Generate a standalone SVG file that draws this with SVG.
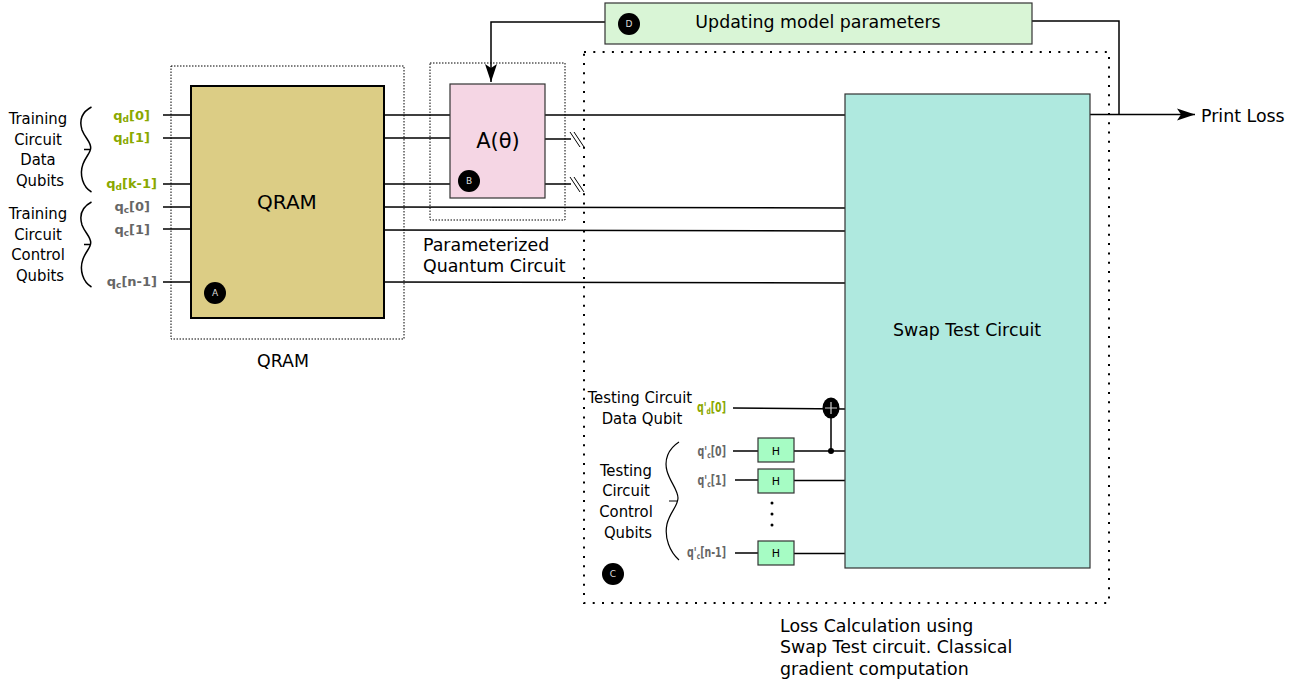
<svg xmlns="http://www.w3.org/2000/svg" width="1311" height="684" viewBox="0 0 1311 684">
<defs>
<marker id="arr" markerUnits="userSpaceOnUse" markerWidth="20" markerHeight="14" refX="18" refY="7" orient="auto"><path d="M0 1L18 7L0 13L4 7Z" fill="#000"/></marker>
</defs>
<style>
text{font-family:"DejaVu Sans",sans-serif;fill:#000}
.t{font-size:16.5px;text-anchor:middle;font-stretch:condensed}
.l{font-size:17.4px}
.gb{font-weight:bold;font-size:13px;fill:#8aa800;text-anchor:end}
.kb{font-weight:bold;font-size:13px;fill:#666;text-anchor:end}
.gn{font-weight:bold;font-size:13.5px;fill:#8aa800;text-anchor:end}
.kn{font-weight:bold;font-size:13.5px;fill:#666;text-anchor:end}
.s{font-size:9px;fill:#ddd;text-anchor:middle}
.w{fill:none;stroke:#000;stroke-width:1.5}
.br{fill:none;stroke:#000;stroke-width:1.5}
.box{fill:none;stroke:#000;stroke-width:1;stroke-dasharray:1.5 1.5}
.h{fill:#a6fcc4;stroke:#333;stroke-width:1.2}
</style>
<g id="connectors">
<path class="w" d="M163 115H191M163 138H191M163 184H191M163 207H191M163 229H191M163 282H191"/>
<path class="w" d="M384 115H450M384 138H450M384 184H450M384 207L845 208M384 230L845 231M384 282L845 283"/>
<path class="w" d="M545 115H845M545 139H571M545 184H571"/>
<path class="w" d="M570 132L580 147M574 132L584 147M570 177L580 192M574 177L584 192" style="stroke-width:1"/>
<path class="w" d="M605 22H491V82" marker-end="url(#arr)"/>
<path class="w" d="M1032 21H1119V115"/>
<path class="w" d="M1090 114.500H1195" marker-end="url(#arr)"/>
<path class="w" d="M733 408L845 409M733 451H758M794 451H845M735 480H758M794 480.500H845M735 553H758M794 553.500H845M831 408V451"/>
<path class="br" d="M91.500 107C82 112 79 120 82 130C85 138 91 142 90.700 148C90.500 153 86 156 83 164C79 175 83 187 91.500 192M84 149.500H91"/>
<path class="br" d="M91.500 202C82 207 79 215 82 225C85 233 91 237 90.700 243C90.500 248 86 251 83 259C79 270 83 282 91.500 287M84 244.500H91"/>
<path class="br" style="stroke-width:1.200" d="M679 442C668 449 664 460 667 471C670 482 678 490 678 498C678 506 670 512 667 524C664 538 670 552 679 560M669 501H678"/>
</g>
<g id="qram-frame"><rect class="box" x="171" y="66" width="233" height="273"/><text class="l" x="283" y="367" text-anchor="middle">QRAM</text></g>
<g id="pqc-frame"><rect class="box" x="430" y="63" width="135" height="157"/><text class="l" x="423" y="251">Parameterized</text><text class="l" x="423" y="272">Quantum Circuit</text></g>
<g id="loss-frame"><rect x="584" y="52" width="525" height="551" fill="none" stroke="#000" stroke-width="2" stroke-dasharray="2 7.300"/><text class="l" x="780" y="632">Loss Calculation using</text><text class="l" x="780" y="653">Swap Test circuit. Classical</text><text class="l" x="780" y="675">gradient computation</text></g>
<g id="qram"><rect x="191" y="86" width="193" height="232" fill="#dccd85" stroke="#000" stroke-width="2"/><text x="287" y="209" font-size="20" text-anchor="middle">QRAM</text><circle cx="215" cy="293" r="11" fill="#000"/><text class="s" x="215" y="296">A</text></g>
<g id="pqc"><rect x="450" y="84" width="95" height="114" fill="#f5d6e4" stroke="#333" stroke-width="1.2"/><text x="498" y="148" font-size="21" text-anchor="middle">A(θ)</text><circle cx="469" cy="181" r="11" fill="#000"/><text class="s" x="469" y="184">B</text></g>
<g id="swap"><rect x="845" y="94" width="245" height="474" fill="#afe9df" stroke="#333" stroke-width="1.2"/><text class="l" x="967" y="336" text-anchor="middle">Swap Test Circuit</text></g>
<g id="update"><rect x="605" y="3" width="427" height="41" fill="#d9f5d6" stroke="#333" stroke-width="1.2"/><circle cx="629" cy="24" r="11" fill="#000"/><text class="s" x="629" y="27">D</text><text class="l" x="818" y="28" text-anchor="middle">Updating model parameters</text></g>
<g id="train-labels">
<text class="t" x="38" y="124">Training</text><text class="t" x="38" y="145">Circuit</text><text class="t" x="38" y="165">Data</text><text class="t" x="40" y="186">Qubits</text>
<text class="t" x="38" y="219">Training</text><text class="t" x="38" y="240">Circuit</text><text class="t" x="38" y="260">Control</text><text class="t" x="40" y="281">Qubits</text>
</g>
<g id="train-qubits">
<text class="gb" x="150" y="120">q<tspan font-size="9" dy="2">d</tspan><tspan dy="-2">[0]</tspan></text>
<text class="gb" x="150" y="142">q<tspan font-size="9" dy="2">d</tspan><tspan dy="-2">[1]</tspan></text>
<text class="gb" x="157" y="188">q<tspan font-size="9" dy="2">d</tspan><tspan dy="-2">[k-1]</tspan></text>
<text class="kb" x="150" y="211">q<tspan font-size="9" dy="2">c</tspan><tspan dy="-2">[0]</tspan></text>
<text class="kb" x="150" y="234">q<tspan font-size="9" dy="2">c</tspan><tspan dy="-2">[1]</tspan></text>
<text class="kb" x="157" y="286">q<tspan font-size="9" dy="2">c</tspan><tspan dy="-2">[n-1]</tspan></text>
</g>
<g id="test-labels">
<text class="t" x="640" y="403">Testing Circuit</text><text class="t" x="642" y="424">Data Qubit</text>
<text class="t" x="626" y="476">Testing</text><text class="t" x="626" y="496">Circuit</text><text class="t" x="626" y="517">Control</text><text class="t" x="628" y="538">Qubits</text>
</g>
<g id="test-qubits">
<text class="gn" transform="translate(726 412) scale(.7 1)">q'<tspan font-size="8.500" dy="2">d</tspan><tspan dy="-2">[0]</tspan></text>
<text class="kn" transform="translate(726 456) scale(.7 1)">q'<tspan font-size="8.500" dy="2">c</tspan><tspan dy="-2">[0]</tspan></text>
<text class="kn" transform="translate(726 485) scale(.7 1)">q'<tspan font-size="8.500" dy="2">c</tspan><tspan dy="-2">[1]</tspan></text>
<text class="kn" transform="translate(726 557) scale(.7 1)">q'<tspan font-size="8.500" dy="2">c</tspan><tspan dy="-2">[n-1]</tspan></text>
</g>
<g id="h0"><rect class="h" x="758" y="438" width="36" height="24"/><text x="776" y="455" font-size="11" text-anchor="middle">H</text></g>
<g id="h1"><rect class="h" x="758" y="469" width="36" height="24"/><text x="776" y="485" font-size="11" text-anchor="middle">H</text></g>
<g id="h2"><rect class="h" x="758" y="541" width="36" height="24"/><text x="776" y="557" font-size="11" text-anchor="middle">H</text></g>
<g id="dots"><circle cx="772" cy="503" r="1.500"/><circle cx="772" cy="514" r="1.500"/><circle cx="772" cy="525" r="1.500"/></g>
<g id="cnot"><ellipse cx="831" cy="408" rx="8.500" ry="10.500" fill="#000"/><path d="M825 408H837M831 402V414" stroke="#ccc" stroke-width="1.200"/><circle cx="831" cy="451" r="3" fill="#000"/></g>
<g id="c-badge"><circle cx="613" cy="574" r="11" fill="#000"/><text class="s" x="613" y="577">C</text></g>
<g id="print"><text class="l" x="1201" y="122">Print Loss</text></g>
</svg>
